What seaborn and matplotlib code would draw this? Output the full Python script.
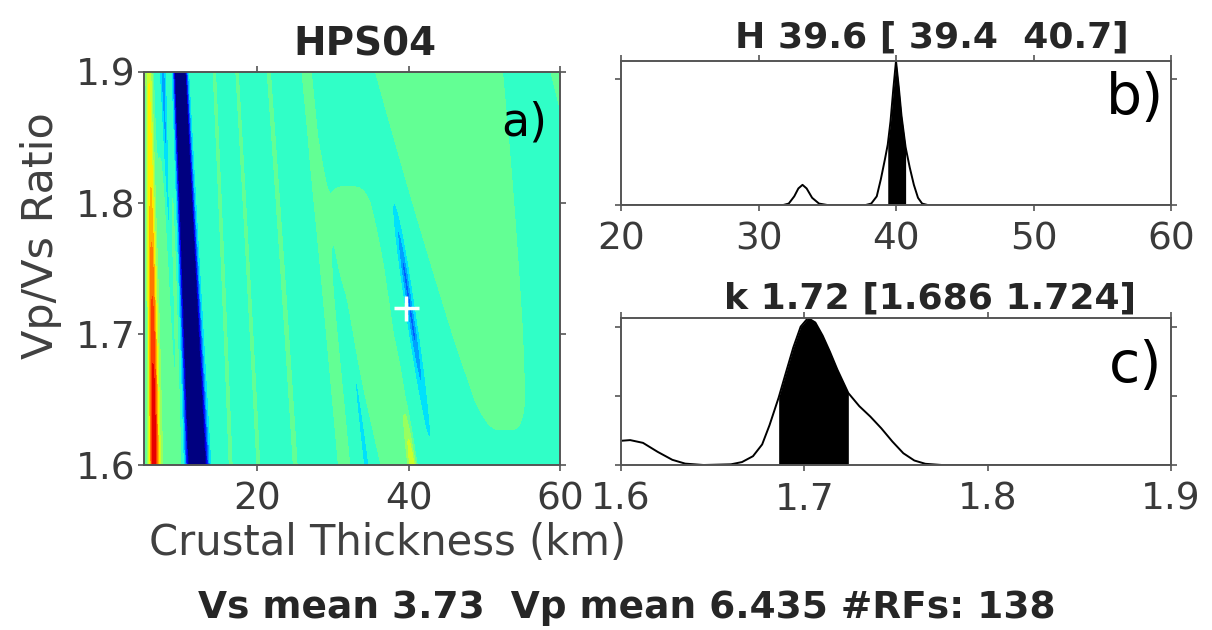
import numpy as np
import matplotlib
matplotlib.use("Agg")
import matplotlib.pyplot as plt
import seaborn as sns

# ---------------- data ----------------
STATION = "HPS04"
H_RANGE = [5, 60]
K_RANGE = [1.6, 1.9]
H_BEST, K_BEST = 39.6, 1.72
H_CI = [39.4, 40.7]
K_CI = [1.686, 1.724]
VS_MEAN, VP_MEAN, N_RFS = 3.73, 6.435, 138

# H (crustal thickness) bootstrap distribution, panel b
b_H = [20, 31.8, 32.2, 32.6, 32.9, 33.2, 33.5, 33.9, 34.4, 35.0, 37.8, 38.2, 38.6,
       38.9, 39.2, 39.4, 39.6, 39.8, 40.0, 40.2, 40.4, 40.7, 41.0, 41.3, 41.6,
       41.9, 42.3, 60]
b_density = [0, 0, 0.008, 0.048, 0.092, 0.112, 0.092, 0.04, 0.008, 0, 0, 0.008,
             0.048, 0.144, 0.256, 0.336, 0.464, 0.64, 0.8, 0.656, 0.496, 0.32,
             0.208, 0.112, 0.04, 0.008, 0, 0]

# k (Vp/Vs) bootstrap distribution, panel c
c_k = [1.600, 1.605, 1.612, 1.620, 1.628, 1.635, 1.645, 1.660, 1.666, 1.672,
       1.677, 1.681, 1.686, 1.690, 1.694, 1.698, 1.702, 1.706, 1.710, 1.714,
       1.718, 1.724, 1.730, 1.736, 1.742, 1.748, 1.754, 1.760, 1.766, 1.775, 1.900]
c_density = [7.0, 7.2, 6.4, 3.8, 1.5, 0.4, 0.0, 0.2, 0.85, 2.55, 5.95, 11.5, 19.5,
             26.8, 34.0, 40.0, 42.5, 41.2, 37.4, 32.7, 27.6, 20.8, 17.0, 14.0,
             10.6, 6.8, 3.4, 1.3, 0.35, 0.0, 0.0]

# H-k stacking surface described by tilted features (u = H reduced to k=1.9)
K_NODES = [1.60, 1.65, 1.70, 1.75, 1.80, 1.85, 1.90]
TILT = 0.73
BASE_LEVEL = 0.40
feat_u_top = [5.65, 7.5, 7.4, 9.8, 14.3, 17.3, 21.5, 26.5, 28.2, 29.5, 33.2, 35.5, 44.0, 63.0]
feat_u_bot = [5.21, 7.8, 7.0, 9.86, 13.5, 16.5, 20.5, 25.8, 28.2, 31.4, 33.2, 35.5, 44.0, 63.0]
feat_w_top = [0.45, 0.35, 1.2, 0.92, 0.3, 0.3, 0.5, 0.9, 0.3, 4.0, 0.4, 0.45, 9.0, 4.5]
feat_w_bot = [0.55, 0.35, 1.4, 1.2, 0.3, 0.3, 0.5, 0.9, 0.3, 1.8, 0.4, 0.45, 2.0, 4.5]
feat_power = [2, 2, 4, 4, 2, 2, 2, 2, 2, 4, 2, 2, 4, 4]
amp_ridge = [0.52, 0.50, 0.45, 0.38, 0.30, 0.25, 0.22]
amp_cyan_left = [-0.02, -0.03, -0.05, -0.07, -0.10, -0.13, -0.15]
amp_green_left = [0.08, 0.08, 0.08, 0.075, 0.06, 0.03, 0.0]
amp_trough = [-0.6, -0.6, -0.6, -0.6, -0.6, -0.6, -0.6]
amp_s14 = [0.05] * 7
amp_s17 = [0.05] * 7
amp_s21 = [0.045] * 7
amp_s26 = [0.06] * 7
amp_cyan28 = [-0.06, -0.04, -0.02, 0, 0, 0, 0]
amp_green_mid = [0.07, 0.08, 0.08, 0.075, 0.05, 0.0, 0.0]
amp_yellow = [0.2, 0.03, 0, 0, 0, 0, 0]
amp_blue_streak = [0.0, -0.06, -0.17, -0.17, -0.03, 0, 0]
amp_green_right = [0.0, 0.07, 0.08, 0.08, 0.08, 0.08, 0.08]
amp_green_corner = [0, 0, 0, 0, 0.05, 0.08, 0.08]
feat_amps = [amp_ridge, amp_cyan_left, amp_green_left, amp_trough, amp_s14, amp_s17,
             amp_s21, amp_s26, amp_cyan28, amp_green_mid, amp_yellow,
             amp_blue_streak, amp_green_right, amp_green_corner]

# ---------------- build surface ----------------
Hg = np.linspace(H_RANGE[0], H_RANGE[1], 661)
Kg = np.linspace(K_RANGE[0], K_RANGE[1], 361)
HH, KK = np.meshgrid(Hg, Kg)
U = HH / (1 + TILT * (K_RANGE[1] - KK))
T = (K_RANGE[1] - KK) / (K_RANGE[1] - K_RANGE[0])
Z = np.full_like(HH, BASE_LEVEL)
for ut, ub, wt, wb, p, amps in zip(feat_u_top, feat_u_bot, feat_w_top, feat_w_bot,
                                   feat_power, feat_amps):
    c = ut + (ub - ut) * T
    w = wt + (wb - wt) * T
    a = np.interp(KK, K_NODES, amps)
    Z += a * np.exp(-(np.abs(U - c) / w) ** p)

# ---------------- figure ----------------
sns.set_style("ticks")
plt.rcParams["font.family"] = ["DejaVu Sans"]
W, Hpx = 1212, 630
fig = plt.figure(figsize=(W / 100, Hpx / 100), dpi=100)

def px_axes(l, t, r, b):
    return fig.add_axes([l / W, 1 - b / Hpx, (r - l) / W, (b - t) / Hpx])

axa = px_axes(144, 72, 560, 465)
axb = px_axes(621, 61, 1171, 205)
axc = px_axes(621, 318, 1171, 465)

FRAME = "#555555"
TICKC = "#3a3a3a"
for ax in (axa, axb, axc):
    for s in ax.spines.values():
        s.set_color(FRAME)
        s.set_linewidth(1.4)
    ax.tick_params(direction="out", length=4, width=1.2, color=FRAME,
                   top=True, right=True, labelsize=27, labelcolor=TICKC)
    ax.tick_params(axis="x", pad=8)
    ax.tick_params(axis="y", pad=2)

# panel a
levels = np.linspace(0, 1, 17)
axa.contourf(HH, KK, Z, levels=levels, cmap="jet", extend="both", antialiased=False)
axa.plot([H_BEST], [K_BEST], marker="+", color="white", ms=18, mew=2.5)
axa.set_xlim(H_RANGE)
axa.set_ylim(K_RANGE)
axa.set_xticks([20, 40, 60])
axa.set_yticks([1.6, 1.7, 1.8, 1.9])
axa.set_yticklabels(["1.6", "1.7", "1.8", "1.9"])
axa.set_xlabel("")
axa.set_ylabel("")
axa.text(0.915, 0.87, "a)", transform=axa.transAxes, fontsize=33,
         ha="center", va="center", color="black")

# panel b
b_H_a = np.array(b_H)
b_d_a = np.array(b_density)
sns.lineplot(x=b_H_a, y=b_d_a, ax=axb, color="black", lw=1.4)
mb = (b_H_a >= H_CI[0]) & (b_H_a <= H_CI[1])
axb.fill_between(b_H_a[mb], 0, b_d_a[mb], color="black", lw=0)
axb.set_xlim(20, 60)
axb.set_ylim(0, 0.8)
axb.set_xticks([20, 30, 40, 50, 60])
axb.set_yticks([0, 0.7])
axb.set_yticklabels([])
axb.set_xlabel("")
axb.set_ylabel("")
axb.text(0.935, 0.74, "b)", transform=axb.transAxes, fontsize=41,
         ha="center", va="center", color="black")

# panel c
c_k_a = np.array(c_k)
c_d_a = np.array(c_density)
sns.lineplot(x=c_k_a, y=c_d_a, ax=axc, color="black", lw=1.4)
mc = (c_k_a >= K_CI[0]) & (c_k_a <= K_CI[1])
axc.fill_between(c_k_a[mc], 0, c_d_a[mc], color="black", lw=0)
axc.set_xlim(1.6, 1.9)
axc.set_ylim(0, 42.5)
axc.set_xticks([1.6, 1.7, 1.8, 1.9])
axc.set_xticklabels(["1.6", "1.7", "1.8", "1.9"])
axc.set_yticks([0, 20, 40])
axc.set_yticklabels([])
axc.set_xlabel("")
axc.set_ylabel("")
axc.text(0.935, 0.67, "c)", transform=axc.transAxes, fontsize=41,
         ha="center", va="center", color="black")

# texts
fig.text(365 / W, 1 - 55 / Hpx, STATION, fontsize=28, fontweight="bold",
         ha="center", va="baseline")
fig.text(932 / W, 1 - 48 / Hpx, f"H {H_BEST} [ {H_CI[0]}  {H_CI[1]}]", fontsize=26,
         fontweight="bold", ha="center", va="baseline")
fig.text(930 / W, 1 - 309 / Hpx, f"k {K_BEST} [{K_CI[0]} {K_CI[1]}]", fontsize=26,
         fontweight="bold", ha="center", va="baseline")
fig.text(388 / W, 1 - 555 / Hpx, "Crustal Thickness (km)", fontsize=30,
         color="#404040", ha="center", va="baseline")
fig.text(41 / W, 1 - 236 / Hpx, "Vp/Vs Ratio", fontsize=31, color="#404040",
         rotation=90, ha="center", va="center")
fig.text(627 / W, 1 - 618 / Hpx, f"Vs mean {VS_MEAN}  Vp mean {VP_MEAN} #RFs: {N_RFS}",
         fontsize=27, fontweight="bold", ha="center", va="baseline")

fig.savefig("out.png", dpi=100)
